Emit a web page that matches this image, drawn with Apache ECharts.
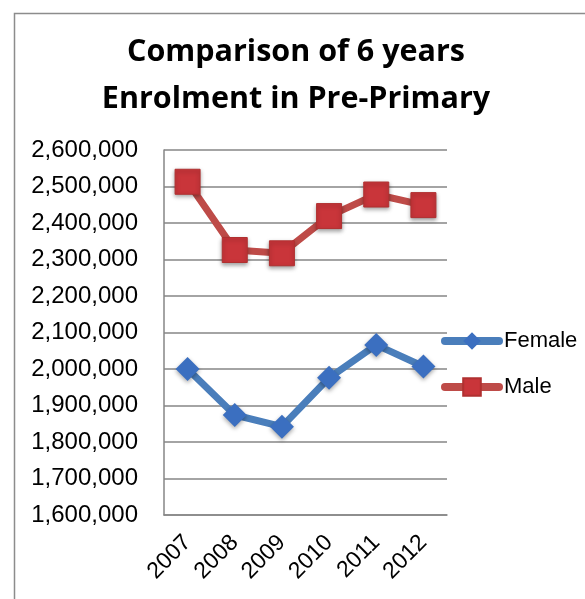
<!DOCTYPE html>
<html>
<head>
<meta charset="utf-8">
<script src="https://cdn.jsdelivr.net/npm/echarts@6/dist/echarts.min.js"></script>
<style>
  html, body { margin: 0; padding: 0; background: #fff; }
  #chart { width: 585px; height: 599px; }
</style>
</head>
<body>
<div id="chart"></div>
<script>
// values
var years = ['2007', '2008', '2009', '2010', '2011', '2012'];
var female = [2000000, 1874000, 1842000, 1976000, 2066000, 2007000];
var male = [2513000, 2326000, 2317000, 2419000, 2478000, 2449000];
var yMin = 1600000, yMax = 2600000, yStep = 100000;

var font = 'Liberation Sans';
var myChart = echarts.init(document.getElementById('chart'));

myChart.setOption({
  animation: false,
  backgroundColor: '#fff',
  title: {
    text: 'Comparison of 6 years\nEnrolment in Pre-Primary',
    left: 291,
    textAlign: 'center',
    top: 24,
    textStyle: {
      fontFamily: 'Open Sans',
      fontWeight: 'bold',
      fontSize: 30.5,
      lineHeight: 47,
      color: '#000'
    }
  },
  graphic: [{
    type: 'rect',
    shape: { x: 14.5, y: 13.5, width: 700, height: 700 },
    style: { fill: 'none', stroke: '#8c8c8c', lineWidth: 1.5 },
    silent: true
  }],
  legend: {
    orient: 'vertical',
    left: 436,
    top: 325,
    itemWidth: 54,
    itemHeight: 22,
    itemGap: 24,
    lineStyle: { width: 8, cap: 'round' },
    textStyle: { fontFamily: font, fontSize: 22, color: '#000', padding: [0, 0, 0, 0] },
    data: ['Female', 'Male']
  },
  grid: { left: 164, right: 138, top: 150, bottom: 84 },
  xAxis: {
    type: 'category',
    data: years,
    boundaryGap: true,
    axisLine: { lineStyle: { color: '#868686', width: 1.5 } },
    axisTick: { show: false },
    axisLabel: {
      rotate: 45,
      margin: 24,
      fontFamily: font,
      fontSize: 23,
      color: '#000'
    }
  },
  yAxis: {
    type: 'value',
    min: yMin,
    max: yMax,
    interval: yStep,
    axisLine: { show: true, lineStyle: { color: '#868686', width: 1.5 } },
    axisTick: { show: false },
    splitLine: { lineStyle: { color: '#868686', width: 1.5 } },
    axisLabel: {
      margin: 26,
      fontFamily: font,
      fontSize: 24,
      color: '#000',
      formatter: function (v) { return v.toLocaleString('en-US'); }
    }
  },
  series: [
    {
      name: 'Female',
      type: 'line',
      data: female,
      symbol: 'diamond',
      symbolSize: 24,
      lineStyle: { color: '#4a7ebb', width: 7 },
      itemStyle: {
        color: '#3b6fc0',
        shadowColor: 'rgba(0,0,0,0.35)',
        shadowBlur: 4,
        shadowOffsetY: 2
      }
    },
    {
      name: 'Male',
      type: 'line',
      data: male,
      symbol: 'rect',
      symbolSize: 25,
      lineStyle: { color: '#be4b48', width: 7 },
      itemStyle: {
        color: '#c9353a',
        borderColor: '#b03030',
        borderWidth: 1,
        shadowColor: 'rgba(0,0,0,0.35)',
        shadowBlur: 4,
        shadowOffsetY: 2
      }
    }
  ]
});
</script>
</body>
</html>
